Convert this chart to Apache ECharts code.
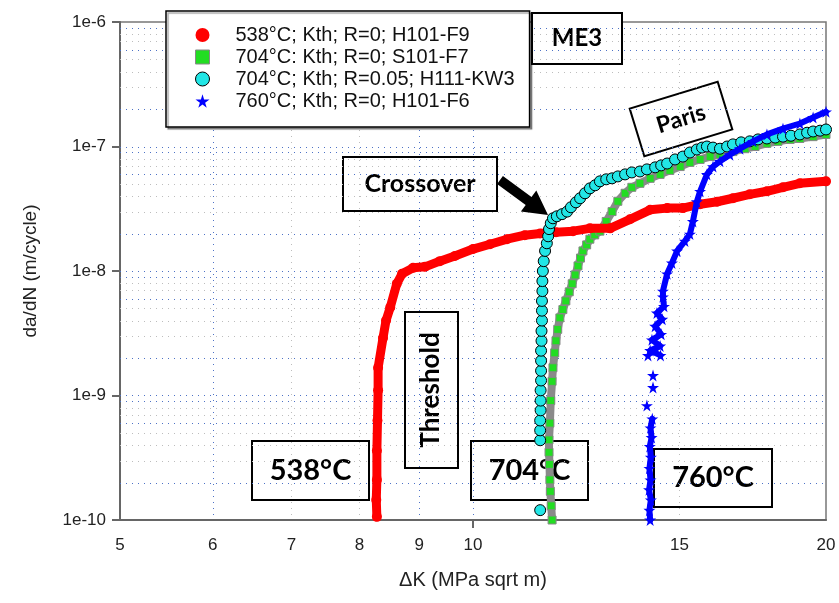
<!DOCTYPE html>
<html><head><meta charset="utf-8">
<script src="https://cdn.jsdelivr.net/npm/echarts@6/dist/echarts.min.js"></script>
<style>html,body{margin:0;padding:0;background:#fff}#c{width:839px;height:603px}</style>
</head><body><div id="c"></div>
<script>
const seriesNames = ['538°C; Kth; R=0; H101-F9', '704°C: Kth; R=0; S101-F7', '704°C; Kth; R=0.05; H111-KW3', '760°C; Kth; R=0; H101-F6'];
const xTickValues = [5, 6, 7, 8, 9, 10, 15, 20];
const xGridBlue = [6, 9, 10];
const xGridGray = [7, 8, 15];
const yGridBlueMult = [1, 2, 6, 9];
const yGridGrayMult = [3, 4, 5, 7, 8];
const yDecades = [-10, -9, -8, -7];

const red538 = [
  [8.28,1.06e-10],[8.27,1.45e-10],[8.28,2.1e-10],[8.28,3.6e-10],[8.29,6.3e-10],[8.30,1.1e-9],[8.30,1.67e-9],
  [8.38,2.9e-9],[8.43,4.0e-9],[8.50,5.1e-9],[8.61,7.9e-9],[8.70,9.5e-9],[8.89,1.06e-8],[9.10,1.08e-8],
  [9.37,1.2e-8],[9.65,1.32e-8],[10.0,1.5e-8],[10.34,1.64e-8],[10.69,1.8e-8],[11.07,1.94e-8],[11.41,2.0e-8],
  [11.77,2.05e-8],[12.17,2.09e-8],[12.58,2.2e-8],[13.09,2.2e-8],[13.61,2.6e-8],[14.16,3.1e-8],[14.64,3.2e-8],
  [15.10,3.2e-8],[15.62,3.44e-8],[16.15,3.6e-8],[16.66,3.84e-8],[17.22,4.13e-8],[17.81,4.37e-8],[18.38,4.7e-8],
  [19.0,5.06e-8],[20.0,5.25e-8]
];
const green704 = [
  [11.68,1.0e-10],[11.66,1.3e-10],[11.64,1.7e-10],[11.63,2.1e-10],[11.62,2.8e-10],[11.61,3.5e-10],[11.61,4.4e-10],
  [11.63,6.0e-10],[11.65,9.1e-10],[11.68,1.3e-9],[11.70,1.67e-9],[11.74,2.2e-9],[11.77,2.75e-9],[11.81,3.4e-9],
  [11.86,4.2e-9],[11.93,4.9e-9],[12.00,5.75e-9],[12.08,6.8e-9],[12.15,7.9e-9],[12.22,9.3e-9],[12.29,1.1e-8],
  [12.35,1.27e-8],[12.41,1.45e-8],[12.50,1.62e-8],[12.58,1.8e-8],[12.70,1.95e-8],[12.83,2.09e-8],[12.99,2.5e-8],
  [13.14,3.0e-8],[13.29,3.63e-8],[13.48,4.21e-8],[13.66,4.7e-8],[13.88,5.06e-8],[14.16,5.55e-8],[14.44,5.97e-8],
  [14.72,6.43e-8],[15.02,6.9e-8],[15.31,7.45e-8],[15.62,7.87e-8],[15.93,8.3e-8],[16.24,8.63e-8],[16.66,9.1e-8],
  [17.06,9.6e-8],[17.40,1.0e-7],[17.81,1.06e-7],[18.20,1.1e-7],[18.64,1.14e-7],[19.0,1.16e-7],[19.5,1.2e-7],
  [20.0,1.25e-7]
];
const cyan704 = [
  [11.41,1.2e-10],['-','-'],
  [11.41,4.37e-10],[11.41,5.25e-10],[11.41,6.3e-10],[11.42,7.6e-10],[11.42,9.1e-10],[11.42,1.1e-9],[11.43,1.32e-9],
  [11.43,1.58e-9],[11.43,1.9e-9],[11.43,2.29e-9],[11.44,2.75e-9],[11.44,3.3e-9],[11.45,4.0e-9],[11.45,4.8e-9],
  [11.45,5.75e-9],[11.46,6.9e-9],[11.46,8.3e-9],[11.47,1.0e-8],[11.49,1.2e-8],[11.52,1.45e-8],[11.56,1.67e-8],
  [11.59,1.9e-8],[11.61,2.17e-8],[11.65,2.42e-8],[11.70,2.65e-8],[11.79,2.75e-8],[11.91,2.86e-8],[12.03,3.0e-8],
  [12.12,3.25e-8],[12.24,3.56e-8],[12.34,3.84e-8],[12.46,4.21e-8],[12.58,4.61e-8],[12.71,4.88e-8],[12.83,5.25e-8],
  [12.99,5.45e-8],[13.14,5.55e-8],[13.29,5.75e-8],[13.48,5.97e-8],[13.66,6.19e-8],[13.88,6.3e-8],[14.07,6.55e-8],
  [14.30,6.8e-8],[14.47,7.05e-8],[14.64,7.3e-8],[14.87,7.87e-8],[15.10,8.3e-8],[15.31,8.95e-8],[15.52,9.46e-8],
  [15.68,9.8e-8],[15.83,1.0e-7],[16.02,9.8e-8],[16.24,9.6e-8],[16.47,1.0e-7],[16.66,1.04e-7],[16.93,1.08e-7],
  [17.22,1.1e-7],[17.50,1.14e-7],[17.81,1.16e-7],[18.10,1.18e-7],[18.38,1.2e-7],[18.67,1.22e-7],[19.0,1.25e-7],
  [19.27,1.29e-7],[19.5,1.32e-7],[19.77,1.34e-7],[20.0,1.37e-7]
];
const blue760 = [
  [14.16,1.0e-10],[14.14,1.2e-10],[14.18,1.45e-10],[14.13,1.75e-10],[14.17,2.1e-10],[14.14,2.6e-10],[14.18,3.2e-10],
  [14.15,3.9e-10],[14.20,4.6e-10],[14.17,5.5e-10],[14.22,6.5e-10],['-','-'],
  [14.07,8.3e-10],['-','-'],[14.24,1.16e-9],['-','-'],[14.24,1.45e-9],['-','-'],[14.10,2.1e-9],['-','-'],
  [14.45,2.1e-9],[14.16,2.3e-9],[14.44,2.5e-9],[14.21,2.8e-9],[14.47,3.1e-9],[14.30,3.6e-9],[14.50,4.1e-9],
  [14.35,4.6e-9],[14.55,5.2e-9],[14.52,6.2e-9],[14.52,6.9e-9],[14.64,9.5e-9],[14.78,1.16e-8],[14.93,1.45e-8],
  [15.16,1.74e-8],[15.31,1.98e-8],[15.40,2.5e-8],[15.52,3.6e-8],[15.62,4.37e-8],[15.83,5.97e-8],[16.02,6.9e-8],
  [16.24,7.6e-8],[16.56,8.6e-8],[16.89,9.6e-8],[17.33,1.1e-7],[17.81,1.25e-7],[18.38,1.39e-7],[19.0,1.53e-7],
  [19.5,1.71e-7],[20.0,1.9e-7]
];

const starPath = 'path://M50,0 L61,35 L98,35 L68,57 L79,91 L50,70 L21,91 L32,57 L2,35 L39,35 Z';
const gridColors = ['#4d72c6', '#bdbdbd'];

// grid line items: [x, y, colorIndex, orient(0 = horizontal, 1 = vertical)]
const gridItems = [];
xGridBlue.forEach(v => gridItems.push([v, 1e-10, 0, 1]));
xGridGray.forEach(v => gridItems.push([v, 1e-10, 1, 1]));
yDecades.forEach(d => {
  yGridBlueMult.forEach(m => { const v = m * Math.pow(10, d); if (d > -10 || m > 1) gridItems.push([5, v, 0, 0]); });
  yGridGrayMult.forEach(m => gridItems.push([5, m * Math.pow(10, d), 1, 0]));
});

const chart = echarts.init(document.getElementById('c'), null, { renderer: 'canvas' });
const bold = 'Lato';
function box(x, y, w, h, text, size) {
  return {
    type: 'group', x: x, y: y, z: 50,
    children: [
      { type: 'rect', shape: { x: 0, y: 0, width: w, height: h }, style: { fill: '#fff', stroke: '#000', lineWidth: 2 } },
      { type: 'text', x: w / 2, y: h / 2, style: { text: text, fontFamily: bold, fontWeight: 'bold', fontSize: size, fill: '#000', align: 'center', verticalAlign: 'middle' } }
    ]
  };
}
chart.setOption({
  animation: false,
  grid: { left: 120, right: 13, top: 22, bottom: 83, show: true, borderColor: '#777', borderWidth: 1.5 },
  legend: {
    orient: 'vertical', left: 166, top: 11,
    padding: [14, 15, 16, 29], itemGap: 2, itemWidth: 14, itemHeight: 14,
    backgroundColor: '#fff', borderColor: '#000', borderWidth: 1.5,
    shadowColor: 'rgba(0,0,0,0.35)', shadowOffsetX: 2, shadowOffsetY: 2, shadowBlur: 1,
    textStyle: { fontFamily: 'Liberation Sans', fontSize: 20, lineHeight: 20, color: '#111', padding: [0, 0, 0, 21] },
    selectedMode: false,
    data: [
      { name: seriesNames[0], icon: 'circle', itemStyle: { color: '#ff0000', borderWidth: 0 } },
      { name: seriesNames[1], icon: 'rect', itemStyle: { color: '#22dd22', borderColor: '#888', borderWidth: 1 } },
      { name: seriesNames[2], icon: 'circle', itemStyle: { color: '#22e6e6', borderColor: '#000', borderWidth: 1 } },
      { name: seriesNames[3], icon: starPath, itemStyle: { color: '#0000ff', borderWidth: 0 } }
    ]
  },
  xAxis: {
    type: 'log', logBase: 10, min: 5, max: 20,
    name: 'ΔK (MPa sqrt m)', nameLocation: 'middle', nameGap: 50,
    nameTextStyle: { fontFamily: 'Liberation Sans', fontSize: 20, color: '#222' },
    axisLine: { show: true, lineStyle: { color: '#666', width: 2 } },
    axisTick: { show: true, customValues: [10], length: 8, inside: false, lineStyle: { color: '#666', width: 2 } },
    axisLabel: { customValues: xTickValues, margin: 17, fontFamily: 'Liberation Sans', fontSize: 17, color: '#222',
      showMinLabel: true, showMaxLabel: true, formatter: v => String(Math.round(v)) },
    splitLine: { show: false }, minorTick: { show: false }, minorSplitLine: { show: false }
  },
  yAxis: {
    type: 'log', logBase: 10, min: 1e-10, max: 1e-6,
    name: 'da/dN (m/cycle)', nameLocation: 'middle', nameGap: 80,
    nameTextStyle: { fontFamily: 'Liberation Sans', fontSize: 19, color: '#222' },
    axisLine: { show: true, lineStyle: { color: '#666', width: 2 } },
    axisTick: { show: true, length: 8, lineStyle: { color: '#666', width: 2 } },
    axisLabel: { margin: 14, fontFamily: 'Liberation Sans', fontSize: 17, color: '#222',
      formatter: v => '1e' + Math.round(Math.log10(v)) },
    splitLine: { show: false }, minorTick: { show: false }, minorSplitLine: { show: false }
  },
  series: [
    { name: 'grid', type: 'custom', data: gridItems, z: 1, silent: true, clip: true,
      renderItem: (params, api) => {
        const cs = params.coordSys;
        const p = api.coord([api.value(0), api.value(1)]);
        const horiz = api.value(3) === 0;
        const x1 = horiz ? cs.x : Math.round(p[0]) + 0.5;
        const x2 = horiz ? cs.x + cs.width : Math.round(p[0]) + 0.5;
        const y1 = horiz ? Math.round(p[1]) + 0.5 : cs.y;
        const y2 = horiz ? Math.round(p[1]) + 0.5 : cs.y + cs.height;
        return { type: 'line', shape: { x1: x1, y1: y1, x2: x2, y2: y2 },
          style: { stroke: gridColors[api.value(2)], lineWidth: 1, lineDash: [1, 5] } };
      } },
    { name: seriesNames[0], type: 'line', data: red538, z: 3, showSymbol: true, showAllSymbol: true,
      symbol: 'circle', symbolSize: 10, itemStyle: { color: '#ff0000' },
      lineStyle: { color: '#ff0000', width: 9, cap: 'round', join: 'round' }, emphasis: { disabled: true } },
    { name: seriesNames[1], type: 'line', data: green704, z: 2, showSymbol: true, showAllSymbol: true,
      symbol: 'rect', symbolSize: 8, itemStyle: { color: '#22dd22', borderColor: '#888', borderWidth: 1 },
      lineStyle: { color: '#8a8a8a', width: 8, cap: 'round', join: 'round' }, emphasis: { disabled: true } },
    { name: seriesNames[2], type: 'line', data: cyan704, z: 4, showSymbol: true, showAllSymbol: true, connectNulls: false,
      symbol: 'circle', symbolSize: 11, itemStyle: { color: '#22e6e6', borderColor: '#000', borderWidth: 1 },
      lineStyle: { color: '#123c3c', width: 5, cap: 'round', join: 'round' }, emphasis: { disabled: true } },
    { name: seriesNames[3], type: 'line', data: blue760, z: 5, showSymbol: true, showAllSymbol: true, connectNulls: false,
      symbol: starPath, symbolSize: 12, itemStyle: { color: '#0000ff' },
      lineStyle: { color: '#0000ff', width: 6, cap: 'round', join: 'round' }, emphasis: { disabled: true } }
  ],
  graphic: [
    box(532, 13, 90, 51, 'ME3', 24),
    box(343, 157, 154, 54, 'Crossover', 25),
    box(252, 441, 117, 59, '538°C', 29),
    box(471, 441, 117, 59, '704°C', 29),
    box(654, 449, 118, 58, '760°C', 29),
    {
      type: 'group', x: 431, y: 390, z: 50,
      children: [
        { type: 'rect', shape: { x: -26, y: -78, width: 53, height: 156 }, style: { fill: '#fff', stroke: '#000', lineWidth: 2 } },
        { type: 'text', rotation: Math.PI / 2, style: { text: 'Threshold', fontFamily: bold, fontWeight: 'bold', fontSize: 26, fill: '#000', align: 'center', verticalAlign: 'middle' } }
      ]
    },
    {
      type: 'group', x: 681, y: 119, rotation: 17 * Math.PI / 180, z: 50,
      children: [
        { type: 'rect', shape: { x: -46, y: -25, width: 92, height: 50 }, style: { fill: '#fff', stroke: '#000', lineWidth: 2 } },
        { type: 'text', style: { text: 'Paris', fontFamily: bold, fontWeight: 'bold', fontSize: 23, fill: '#000', align: 'center', verticalAlign: 'middle' } }
      ]
    },
    {
      type: 'polygon', z: 50,
      shape: { points: [[502.9,176],[531.5,196.9],[536.3,190.4],[548,215],[520.9,211.4],[525.7,204.9],[497.1,184]] },
      style: { fill: '#000' }
    }
  ]
});
</script>
</body></html>
